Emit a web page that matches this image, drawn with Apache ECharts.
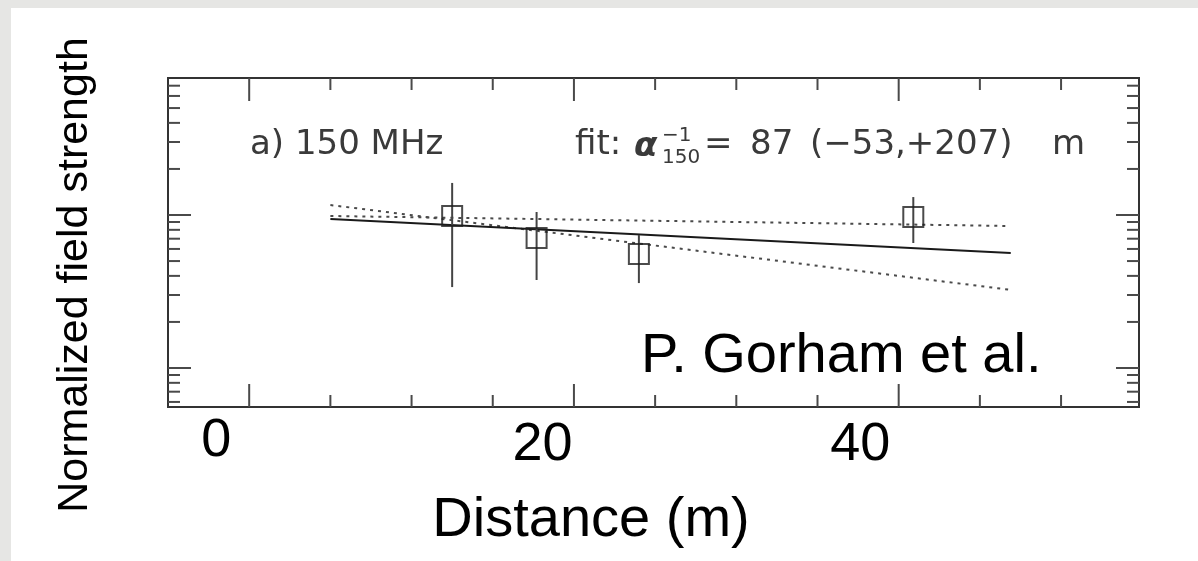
<!DOCTYPE html>
<html>
<head>
<meta charset="utf-8">
<script src="https://cdn.jsdelivr.net/npm/echarts@6/dist/echarts.min.js"></script>
<style>
html,body{margin:0;padding:0;background:#e6e6e4;}
#c{width:1198px;height:561px;}
</style>
</head>
<body>
<div id="c"></div>
<script>
// ---- data ----
const distances   = [12.5, 17.7, 24.0, 40.9];
const fieldValues = [0.985, 0.707, 0.556, 0.970];
const errorLow    = [0.338, 0.376, 0.359, 0.656];
const errorHigh   = [1.62, 1.046, 0.740, 1.31];

const fitBestX   = [5, 46.9];
const fitBestY   = [0.941, 0.565];
const fitUpperX  = [5, 46.6];
const fitUpperY  = [0.985, 0.848];
const fitLowerX  = [5, 46.9];
const fitLowerY  = [1.162, 0.324];

const xTickValues = [0, 20, 40];
const xTickLabels = ['0', '20', '40'];
const xMajorTicks = [0, 20, 40];
const xMinorTicks = [5, 10, 15, 25, 30, 35, 45, 50];
const yMajorTicks = [0.1, 1];
const yMinorTicks = [0.06, 0.07, 0.08, 0.09, 0.2, 0.3, 0.4, 0.5, 0.6, 0.7, 0.8, 0.9, 2, 3, 4, 5, 6, 7];

const xLabel = 'Distance (m)';
const yLabel = 'Normalized field strength';
const panelLabel = 'a) 150 MHz';
const creditLabel = 'P. Gorham et al.';

// ---- build ----
const ARIAL = '"Liberation Sans", Arial, sans-serif';
const DEJAVU = '"DejaVu Sans", sans-serif';

const tickData = [];
xMajorTicks.forEach(v => tickData.push([v, 1, 0]));
xMinorTicks.forEach(v => tickData.push([v, 1, 1]));
yMajorTicks.forEach(v => tickData.push([0, v, 2]));
yMinorTicks.forEach(v => tickData.push([0, v, 3]));

const pts = distances.map((d, i) => [d, fieldValues[i]]);
const errs = distances.map((d, i) => [d, errorLow[i], errorHigh[i]]);
const pairs = (xs, ys) => xs.map((x, i) => [x, ys[i]]);

function renderTick(params, api) {
  const cs = params.coordSys;
  const kind = api.value(2);
  const p = api.coord([api.value(0), api.value(1)]);
  const len = (kind === 0 || kind === 2) ? 23 : 12;
  const style = { stroke: '#4a4a4a', lineWidth: 2 };
  if (kind < 2) {
    const b = cs.y + cs.height, t = cs.y;
    return { type: 'group', children: [
      { type: 'line', shape: { x1: p[0], y1: b, x2: p[0], y2: b - len }, style },
      { type: 'line', shape: { x1: p[0], y1: t, x2: p[0], y2: t + len }, style }
    ]};
  }
  const l = cs.x, r = cs.x + cs.width;
  return { type: 'group', children: [
    { type: 'line', shape: { x1: l, y1: p[1], x2: l + len, y2: p[1] }, style },
    { type: 'line', shape: { x1: r, y1: p[1], x2: r - len, y2: p[1] }, style }
  ]};
}

function renderErr(params, api) {
  const a = api.coord([api.value(0), api.value(1)]);
  const b = api.coord([api.value(0), api.value(2)]);
  return { type: 'line', shape: { x1: a[0], y1: a[1], x2: b[0], y2: b[1] },
           style: { stroke: '#444', lineWidth: 2 } };
}

const rich = {
  t0: { fontSize: 54, fontFamily: ARIAL, color: '#000', lineHeight: 54, padding: [0, 66, 0, 0] },
  t1: { fontSize: 54, fontFamily: ARIAL, color: '#000', lineHeight: 54, padding: [8, 63, 0, 0] },
  t2: { fontSize: 54, fontFamily: ARIAL, color: '#000', lineHeight: 54, padding: [8, 77, 0, 0] }
};

function txt(x, y, text, font, extra, rotation) {
  return { type: 'text', x: x, y: y, rotation: rotation || 0, silent: true,
    style: Object.assign({ text: text, font: font, fill: '#3a3a3a', textAlign: 'left', textVerticalAlign: 'middle' }, extra || {}) };
}

const chart = echarts.init(document.getElementById('c'), null, { renderer: 'canvas' });
chart.setOption({
  animation: false,
  backgroundColor: '#e6e6e4',
  grid: { left: 168, top: 78, right: 59, bottom: 154, show: true, borderColor: '#333', borderWidth: 2, backgroundColor: 'rgba(0,0,0,0)' },
  xAxis: {
    type: 'value', min: -5, max: 54.8, interval: 5,
    axisLine: { show: false }, axisTick: { show: false }, splitLine: { show: false },
    axisLabel: {
      margin: 7, fontSize: 54, fontFamily: ARIAL, color: '#000',
      formatter: function (v) {
        const i = xTickValues.findIndex(t => Math.abs(t - v) < 1e-6);
        return i < 0 ? '' : '{t' + i + '|' + xTickLabels[i] + '}';
      },
      rich: rich
    }
  },
  yAxis: {
    type: 'log', min: 0.0556, max: 7.86, logBase: 10,
    axisLine: { show: false }, axisTick: { show: false }, axisLabel: { show: false }, splitLine: { show: false }
  },
  graphic: [
    { type: 'rect', z: -100, silent: true, shape: { x: 11, y: 8, width: 1187, height: 553 }, style: { fill: '#ffffff' } },
    txt(75, 275, yLabel, '43px ' + ARIAL, { fill: '#000', textAlign: 'center' }, Math.PI / 2),
    txt(591, 521, xLabel, '56px ' + ARIAL, { fill: '#000', textAlign: 'center' }),
    txt(641, 357, creditLabel, '56px ' + ARIAL, { fill: '#000' }),
    txt(250, 145, panelLabel, '34px ' + DEJAVU),
    txt(575, 145, 'fit:', '34px ' + DEJAVU),
    txt(634, 147, 'α', 'italic bold 34px ' + DEJAVU),
    txt(662, 136, '−1', '20px ' + DEJAVU),
    txt(662, 158, '150', '20px ' + DEJAVU),
    txt(704, 145, '=', '34px ' + DEJAVU),
    txt(750, 145, '87', '34px ' + DEJAVU),
    txt(810, 145, '(−53,+207)', '34px ' + DEJAVU),
    txt(1052, 145, 'm', '34px ' + DEJAVU)
  ],
  series: [
    { type: 'custom', renderItem: renderTick, data: tickData, silent: true, clip: false, z: 1 },
    { type: 'line', data: pairs(fitUpperX, fitUpperY), showSymbol: false, silent: true,
      lineStyle: { color: '#4a4a4a', width: 2, type: [3, 5] }, z: 2 },
    { type: 'line', data: pairs(fitLowerX, fitLowerY), showSymbol: false, silent: true,
      lineStyle: { color: '#4a4a4a', width: 2, type: [3, 5] }, z: 2 },
    { type: 'line', data: pairs(fitBestX, fitBestY), showSymbol: false, silent: true,
      lineStyle: { color: '#1a1a1a', width: 2 }, z: 3 },
    { type: 'custom', renderItem: renderErr, data: errs, encode: { x: 0, y: [1, 2] }, silent: true, z: 4 },
    { type: 'scatter', data: pts, symbol: 'rect', symbolSize: 20, silent: true,
      itemStyle: { color: 'rgba(255,255,255,0)', borderColor: '#1e1e1e', borderWidth: 2 }, z: 5 }
  ]
});
</script>
</body>
</html>
